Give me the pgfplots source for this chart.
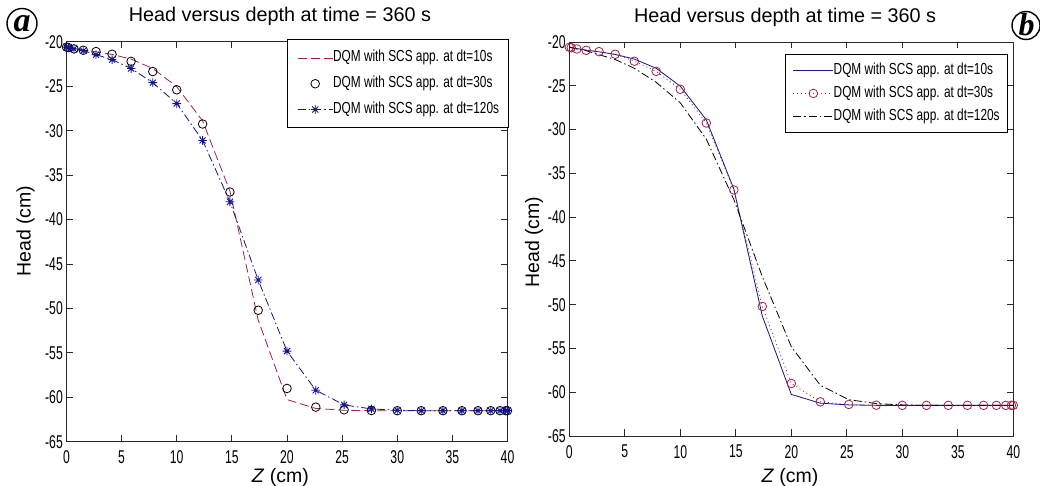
\documentclass[border=0pt]{standalone}
\usepackage{fontspec}
\setmainfont{Liberation Sans}
\newfontfamily\cond[FakeStretch=0.66]{Liberation Sans}
\newfontfamily\legfont[FakeStretch=0.74]{Liberation Sans}
\newfontfamily\serifbi{Liberation Serif}
\usepackage{pgfplots}
\usepackage{pgfplotstable}
\pgfplotsset{compat=1.18}

\definecolor{mred}{RGB}{160,35,65}
\definecolor{mnavy}{RGB}{20,20,140}
\definecolor{axgray}{RGB}{40,40,40}

\pgfdeclareplotmark{mstar}{%
  \pgfpathmoveto{\pgfqpoint{-\pgfplotmarksize}{0pt}}\pgfpathlineto{\pgfqpoint{\pgfplotmarksize}{0pt}}%
  \pgfpathmoveto{\pgfqpoint{0pt}{-\pgfplotmarksize}}\pgfpathlineto{\pgfqpoint{0pt}{\pgfplotmarksize}}%
  \pgfpathmoveto{\pgfqpoint{-.707\pgfplotmarksize}{-.707\pgfplotmarksize}}\pgfpathlineto{\pgfqpoint{.707\pgfplotmarksize}{.707\pgfplotmarksize}}%
  \pgfpathmoveto{\pgfqpoint{-.707\pgfplotmarksize}{.707\pgfplotmarksize}}\pgfpathlineto{\pgfqpoint{.707\pgfplotmarksize}{-.707\pgfplotmarksize}}%
  \pgfusepathqstroke}

\pgfplotstableread{
z      dt10    dt30    dt120
0      -20.60  -20.60  -20.60
0.171  -20.62  -20.65  -20.65
0.681  -20.75  -20.80  -20.80
1.522  -20.92  -20.95  -21.00
2.679  -21.12  -21.10  -21.45
4.133  -21.42  -21.40  -22.00
5.858  -21.95  -22.20  -23.00
7.825  -23.00  -23.35  -24.60
10     -25.05  -25.40  -26.95
12.346 -28.90  -29.25  -31.10
14.824 -36.80  -36.90  -38.00
17.389 -51.30  -50.20  -46.80
20     -60.25  -59.00  -54.80
22.611 -61.25  -61.10  -59.20
25.176 -61.45  -61.40  -60.85
27.654 -61.50  -61.48  -61.30
30     -61.50  -61.50  -61.45
32.175 -61.50  -61.50  -61.50
34.142 -61.50  -61.50  -61.50
35.867 -61.50  -61.50  -61.50
37.321 -61.50  -61.50  -61.50
38.478 -61.50  -61.50  -61.50
39.319 -61.50  -61.50  -61.50
39.829 -61.50  -61.50  -61.50
40     -61.50  -61.50  -61.50
}\data

\pgfplotsset{
  matstyle/.style={
    scale only axis, clip=false,
    xmin=0, xmax=40, ymin=-65, ymax=-20,
    xtick={0,5,...,40}, ytick={-65,-60,...,-20},
    xticklabels={0,5,10,15,20,25,30,35,40},
    yticklabels={-65,-60,-55,-50,-45,-40,-35,-30,-25,-20},
    tick align=inside, major tick length=6.5pt,
    axis line style={draw=axgray, line width=0.9pt},
    every tick/.style={axgray, line width=0.9pt},
    tick label style={font=\cond\fontsize{18.5}{21}\selectfont, inner sep=0pt, text=black},
    yticklabel style={xshift=-3.5pt},
    xticklabel style={yshift=-9pt},
    title style={font=\fontsize{19.8}{22}\selectfont, anchor=base},
    label style={font=\fontsize{19.5}{22}\selectfont},
    title={Head versus depth at time = 360 s},
    xlabel={\textit{Z} (cm)},
    ylabel={Head (cm)},
    legend cell align=left,
  },
}

\begin{document}
\begin{tikzpicture}
\useasboundingbox (0,0) rectangle (1040pt,486pt);
\fill[white] (0,0) rectangle (1040pt,486pt);

% ---------------- panel a ----------------
\begin{axis}[matstyle,
  at={(66.5pt,44.2pt)}, anchor=south west,
  width=441pt, height=400pt,
  title style={at={(axis description cs:0.484,1.0345)}},
  xlabel style={at={(axis description cs:0.485,-0.103)}, anchor=base},
  ylabel style={at={(axis description cs:-0.0816,0.527)}, anchor=base},
  legend image code/.code={\draw[mark repeat=2,mark phase=2,#1] plot coordinates {(0pt,0pt) (17.5pt,0pt) (35pt,0pt)};},
  legend style={at={(1,1)}, anchor=north east, xshift=1.5pt, yshift=2.5pt,
    font=\legfont\fontsize{16}{19}\selectfont, draw=black, line width=0.9pt, fill=white,
    inner xsep=9.5pt, inner ysep=10.2pt, row sep=9.8pt,
    nodes={inner sep=0pt, text height=12pt, text depth=4pt},
    /tikz/every even column/.append style={column sep=2pt}},
]
\addplot[mred, line width=0.8pt, dash pattern=on 9pt off 4pt, no marks] table[x=z,y=dt10] {\data};
\addlegendentry{DQM with SCS app. at dt=10s}
\addplot[black, line width=0.8pt, only marks, mark=o, mark size=4.3pt] table[x=z,y=dt30] {\data};
\addlegendentry{DQM with SCS app. at dt=30s}
\addplot[mnavy, line width=0.8pt, dash pattern=on 8pt off 3pt on 1.5pt off 3pt, mark=mstar, mark size=4.3pt, mark options={solid, line width=0.9pt}] table[x=z,y=dt120] {\data};
\addlegendentry{DQM with SCS app. at dt=120s}
\end{axis}

% ---------------- panel b ----------------
\begin{axis}[matstyle,
  at={(569.3pt,50pt)}, anchor=south west,
  width=444pt, height=394pt,
  title style={at={(axis description cs:0.486,1.0355)}},
  xlabel style={at={(axis description cs:0.497,-0.119)}, anchor=base},
  ylabel style={at={(axis description cs:-0.068,0.492)}, anchor=base},
  legend image code/.code={\draw[mark repeat=2,mark phase=2,#1] plot coordinates {(0pt,0pt) (20pt,0pt) (40pt,0pt)};},
  legend style={at={(1,1)}, anchor=north east, xshift=-5.5pt, yshift=-12pt,
    font=\legfont\fontsize{16}{19}\selectfont, draw=black, line width=0.9pt, fill=white,
    inner xsep=7.7pt, inner ysep=8.4pt, row sep=6.6pt,
    nodes={inner sep=0pt, text height=12pt, text depth=4pt},
    /tikz/every even column/.append style={column sep=2pt}},
]
\addplot[mnavy, line width=0.8pt, solid, no marks] table[x=z,y=dt10] {\data};
\addlegendentry{DQM with SCS app. at dt=10s}
\addplot[mred, line width=0.8pt, dash pattern=on 1pt off 3pt, mark=o, mark size=4.3pt, mark options={solid}] table[x=z,y=dt30] {\data};
\addlegendentry{DQM with SCS app. at dt=30s}
\addplot[black, line width=0.8pt, dash pattern=on 8pt off 3pt on 1.5pt off 3pt, no marks] table[x=z,y=dt120] {\data};
\addlegendentry{DQM with SCS app. at dt=120s}
\end{axis}

% ---------------- panel labels ----------------
\draw[line width=1.4pt] (22pt,462.5pt) circle (15pt);
\node[font=\serifbi\bfseries\itshape\fontsize{34}{36}\selectfont, inner sep=0pt] at (22pt,462pt) {a};
\draw[line width=1.4pt] (1026pt,460.5pt) circle (14pt);
\node[font=\serifbi\bfseries\itshape\fontsize{32}{34}\selectfont, inner sep=0pt] at (1026.5pt,461pt) {b};
\end{tikzpicture}
\end{document}
